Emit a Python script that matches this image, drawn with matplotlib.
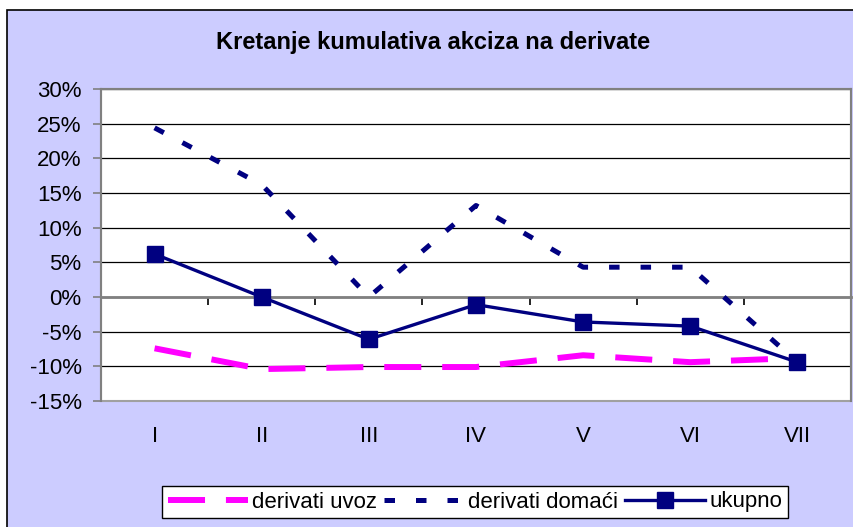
import numpy as np
import matplotlib.pyplot as plt
from matplotlib.patches import Rectangle

plt.rcParams['font.family'] = ['Liberation Sans', 'DejaVu Sans']

categories = ['I', 'II', 'III', 'IV', 'V', 'VI', 'VII']
derivati_uvoz = [-7.4, -10.4, -10.1, -10.1, -8.4, -9.4, -8.8]
derivati_domaci = [24.4, 16.2, 0.0, 13.2, 4.3, 4.3, -9.4]
ukupno = [6.2, 0.0, -6.1, -1.1, -3.6, -4.2, -9.4]
y_ticks = list(range(-15, 31, 5))

NAVY = '#000080'
MAGENTA = '#FF00FF'

fig = plt.figure(figsize=(8.54, 5.27), dpi=100)
fig.patch.set_facecolor('white')
fig.patches.append(Rectangle((7 / 854, -0.01), 1.0, 0.991, transform=fig.transFigure,
                             facecolor='#CCCCFF', edgecolor='black', linewidth=1.2, zorder=-5))

ax = fig.add_axes([101 / 854, 1 - 401 / 527, 750 / 854, 312 / 527])
ax.set_facecolor('white')
x = np.arange(len(categories))

ax.plot(x, derivati_uvoz, color=MAGENTA, lw=4.3, dashes=(6.2, 3.5),
        dash_capstyle='butt', label='derivati uvoz', zorder=3)
ax.plot(x, derivati_domaci, color=NAVY, lw=3.6, dashes=(2.1, 4.2),
        dash_capstyle='butt', label='derivati domaći', zorder=3)
ax.plot(x, ukupno, color=NAVY, lw=2.4, marker='s', markersize=12,
        label='ukupno', zorder=4)

ax.set_xlim(-0.5, len(categories) - 0.5)
ax.set_ylim(-15, 30)
ax.set_yticks(y_ticks)
ax.set_yticklabels([f'{v}%' for v in y_ticks], fontsize=16)
ax.yaxis.grid(True, color='black', lw=0.9)
ax.set_axisbelow(True)

for side in ['top', 'right', 'left']:
    ax.spines[side].set_color('#808080')
    ax.spines[side].set_linewidth(1.5)
ax.spines['bottom'].set_position(('data', 0))
ax.spines['bottom'].set_color('#808080')
ax.spines['bottom'].set_linewidth(2)
ax.add_patch(Rectangle((0, 0), 1, 1, transform=ax.transAxes, fill=False,
                       edgecolor='#A0A0A0', lw=1.5, zorder=1, clip_on=False))

ax.set_xticks(np.arange(len(categories) + 1) - 0.5)
ax.set_xticklabels([])
ax.tick_params(axis='x', direction='out', length=6, width=1.2, color='black')
ax.tick_params(axis='y', direction='out', length=6, width=1.2, color='#808080', pad=8)

for xi, lab in zip(x, categories):
    ax.text(xi, -0.115, lab, transform=ax.get_xaxis_transform(),
            ha='center', va='center', fontsize=16)

fig.text(433 / 854, 1 - 42 / 527, 'Kretanje kumulativa akciza na derivate',
         fontsize=17, fontweight='bold', ha='center', va='center')

leg = fig.legend(loc='center', bbox_to_anchor=(475 / 854, 1 - 502 / 527),
                 bbox_transform=fig.transFigure, ncol=3, fontsize=16,
                 frameon=True, fancybox=False, edgecolor='black', framealpha=1,
                 handlelength=3.6, handletextpad=0.2, columnspacing=0.3,
                 borderpad=0.25, borderaxespad=0)
leg.get_frame().set_linewidth(1.0)
leg.get_frame().set_facecolor('white')

fig.savefig('out.png', dpi=100)
